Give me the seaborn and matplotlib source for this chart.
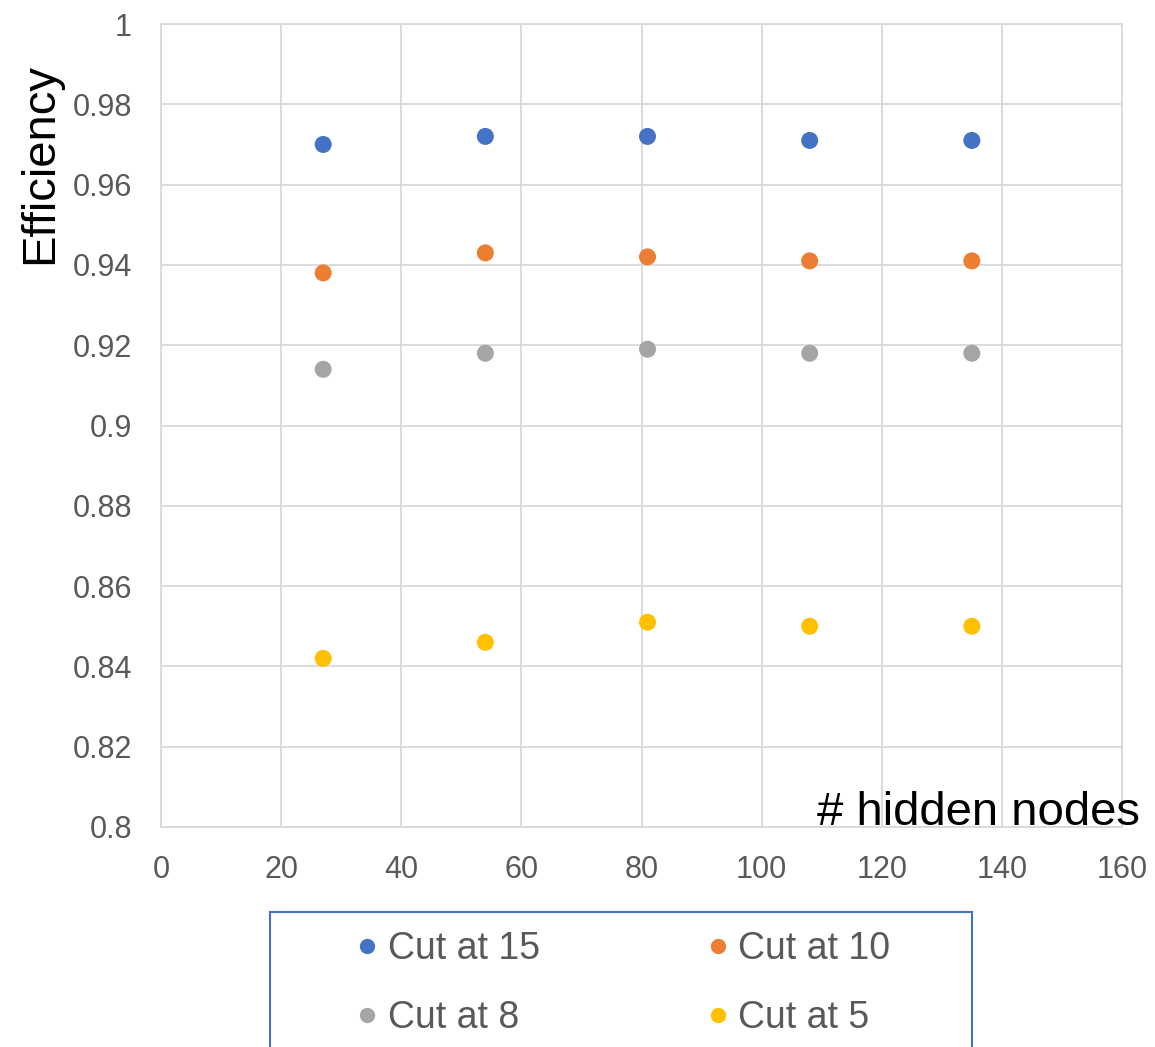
import matplotlib
matplotlib.use("Agg")
import matplotlib.pyplot as plt
from matplotlib.lines import Line2D
from matplotlib.patches import Rectangle
from matplotlib.ticker import FuncFormatter, MultipleLocator
import seaborn as sns
import pandas as pd

# Efficiency versus number of hidden nodes, one series per cut
hidden_nodes = [27, 54, 81, 108, 135]
cut_15 = [0.970, 0.972, 0.972, 0.971, 0.971]
cut_10 = [0.938, 0.943, 0.942, 0.941, 0.941]
cut_8 = [0.914, 0.918, 0.919, 0.918, 0.918]
cut_5 = [0.842, 0.846, 0.851, 0.850, 0.850]
series_names = ["Cut at 15", "Cut at 10", "Cut at 8", "Cut at 5"]
colors = ["#4472C4", "#ED7D31", "#A5A5A5", "#FFC000"]

df = pd.concat(
    [
        pd.DataFrame({"nodes": hidden_nodes, "eff": vals, "series": name})
        for name, vals in zip(series_names, [cut_15, cut_10, cut_8, cut_5])
    ],
    ignore_index=True,
)

sns.set_theme(style="white")
plt.rcParams["font.family"] = ["Liberation Sans", "DejaVu Sans"]

W, H = 1155, 1047
fig = plt.figure(figsize=(W / 100, H / 100), dpi=100)
ax = fig.add_axes([161 / W, 1 - 827 / H, (1122 - 161) / W, (827 - 24) / H])

palette = dict(zip(series_names, colors))
sns.scatterplot(data=df, x="nodes", y="eff", hue="series", palette=palette,
                s=150, linewidth=0, ax=ax, legend=False, zorder=3)

ax.set_xlim(0, 160)
ax.set_ylim(0.8, 1.0)
ax.xaxis.set_major_locator(MultipleLocator(20))
ax.yaxis.set_major_locator(MultipleLocator(0.02))
ax.yaxis.set_major_formatter(FuncFormatter(lambda v, p: f"{v:.2f}".rstrip("0").rstrip(".")))
ax.grid(True, color="#D9D9D9", linewidth=1.3)
ax.set_axisbelow(True)
for sp in ax.spines.values():
    sp.set_color("#D9D9D9")
    sp.set_linewidth(1.3)
ax.tick_params(axis="both", length=0, labelsize=22, labelcolor="#595959")
ax.tick_params(axis="y", pad=21)
ax.tick_params(axis="x", pad=20)
ax.set_xlabel("")
ax.set_ylabel("")

fig.text(40 / W, 1 - 164 / H, "Efficiency", rotation=90, ha="center",
         va="center", fontsize=34, color="black")
fig.text(1140 / W, 1 - 825 / H, "# hidden nodes", ha="right",
         va="baseline", fontsize=34, color="black")

# Legend box below the plot, filled row by row
fig.patches.append(Rectangle((270 / W, -0.05), (972 - 270) / W, 0.05 + 1 - 912 / H,
                             transform=fig.transFigure, fill=False,
                             edgecolor="#4472C4", linewidth=1.5))
order = [0, 2, 1, 3]
handles = [Line2D([], [], linestyle="none", marker="o", markersize=11,
                  markerfacecolor=colors[i], markeredgewidth=0) for i in order]
labels = [series_names[i] for i in order]
fig.legend(handles, labels, loc="upper left",
           bbox_to_anchor=(357.6 / W, 1 - 931 / H), ncol=2, frameon=False,
           fontsize=27, labelcolor="#595959", handlelength=0.5,
           handletextpad=0.3, columnspacing=4.5, labelspacing=0.87,
           borderpad=0, borderaxespad=0)

fig.savefig("out.png", dpi=100)
